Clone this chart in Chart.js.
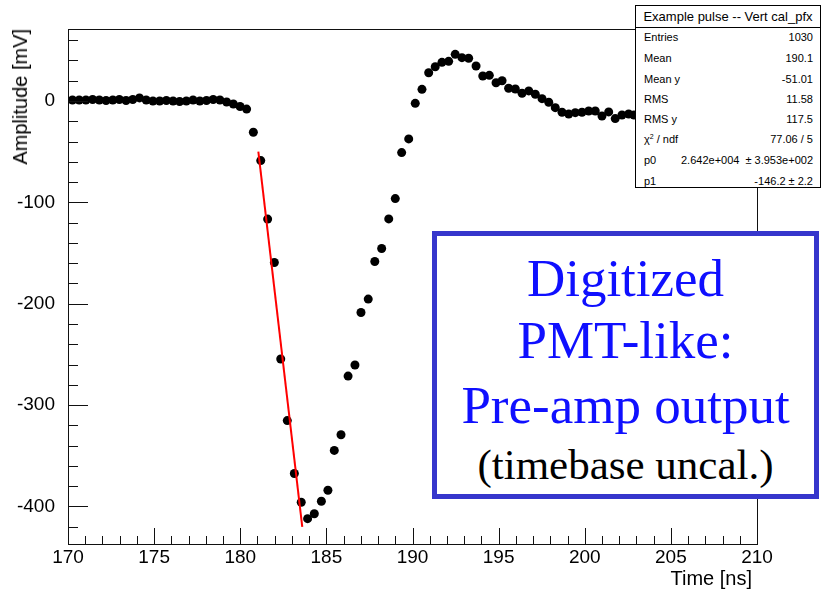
<!DOCTYPE html>
<html>
<head>
<meta charset="utf-8">
<script src="https://cdn.jsdelivr.net/npm/chart.js@4/dist/chart.umd.min.js"></script>
<style>
  html, body { margin: 0; padding: 0; background: #fff; }
  #wrap { position: relative; width: 823px; height: 589px; overflow: hidden; font-family: "Liberation Sans", Arial, sans-serif; }
  #plot { position: absolute; left: 0; top: 0; }
  .ytitle { position: absolute; left: 10px; top: 29px; font-size: 20px; line-height: 20px; writing-mode: vertical-rl; transform: rotate(180deg); white-space: nowrap; }
  .xtitle { position: absolute; right: 71px; top: 568px; font-size: 20px; line-height: 20px; white-space: nowrap; }
  #stats { position: absolute; left: 635px; top: 5px; width: 186px; height: 183px; border: 1px solid #000; background: #fff; box-sizing: border-box; }
  #stats .head { position: absolute; left: 0; right: 0; top: 0; height: 21px; border-bottom: 1px solid #000; text-align: center; font-size: 13px; line-height: 21px; }
  #stats .row { position: absolute; left: 8px; right: 7px; height: 14px; font-size: 11px; line-height: 14px; }
  #stats .row .v { position: absolute; right: 0; top: 0; }
  #stats sup { font-size: 7px; line-height: 0; vertical-align: 4px; }
  #note { position: absolute; left: 432px; top: 231px; width: 387px; height: 268px; border: 5px solid #3636cc; box-sizing: border-box; background: #fff; font-family: "Liberation Serif", "Times New Roman", serif; }
  #note div { position: absolute; left: 0; right: 0; text-align: center; white-space: nowrap; }
  #note .big { color: #0f0fff; font-size: 53px; line-height: 60px; }
  #note .small { color: #000; font-size: 43px; line-height: 50px; }
</style>
</head>
<body>
<div id="wrap">
  <canvas id="plot" width="823" height="589"></canvas>
  <div class="ytitle">Amplitude [mV]</div>
  <div class="xtitle">Time [ns]</div>
  <div id="stats">
    <div class="head">Example pulse -- Vert cal_pfx</div>
    <div class="row" style="top:24px">Entries<span class="v">1030</span></div>
    <div class="row" style="top:45px">Mean<span class="v">190.1</span></div>
    <div class="row" style="top:66px">Mean y<span class="v">-51.01</span></div>
    <div class="row" style="top:86px">RMS<span class="v">11.58</span></div>
    <div class="row" style="top:106px">RMS y<span class="v">117.5</span></div>
    <div class="row" style="top:126px">&chi;<sup>2</sup> / ndf<span class="v">77.06 / 5</span></div>
    <div class="row" style="top:147px">p0<span style="position:absolute;left:37px">2.642e+004</span><span class="v">&plusmn; 3.953e+002</span></div>
    <div class="row" style="top:168px">p1<span class="v">-146.2 &plusmn; 2.2</span></div>
  </div>
  <div id="note">
    <div class="big" style="top:12px">Digitized</div>
    <div class="big" style="top:74px">PMT-like:</div>
    <div class="big" style="top:139px">Pre-amp output</div>
    <div class="small" style="top:204px">(timebase uncal.)</div>
  </div>
</div>
<script>
// Pulse samples: time [ns] and amplitude [mV]
const timeNs = [
  170.26, 170.65, 171.04, 171.43, 171.82, 172.21, 172.60, 172.98, 173.37, 173.76,
  174.15, 174.54, 174.93, 175.32, 175.71, 176.10, 176.48, 176.87, 177.26, 177.65,
  178.04, 178.43, 178.82, 179.21, 179.60, 179.99, 180.37,
  180.76, 181.19, 181.59, 181.98, 182.35, 182.73, 183.14, 183.54, 183.91, 184.30,
  184.71, 185.09, 185.46, 185.85, 186.26, 186.66, 187.01, 187.43, 187.81, 188.21,
  188.62, 189.00, 189.37, 189.78, 190.16, 190.55, 190.94, 191.32, 191.71, 192.10,
  192.48, 192.87, 193.26, 193.69, 194.08, 194.46, 194.85, 195.20, 195.58, 195.97,
  196.36, 196.75, 197.13, 197.52, 197.91, 198.29, 198.68, 199.07, 199.45, 199.84,
  200.23, 200.61, 201.00, 201.39, 201.77, 202.16, 202.55, 202.86
];
const amplitudeMv = [
  1, 1, 1, 1.5, 1, 0.5, 1, 1.5, 0.5, 1.5,
  3, 1, 0, 0, 0.5, 0, -0.5, 0, 1, 0,
  0.5, 1.5, 1, -1, -3, -5.5, -8,
  -30.8, -58.8, -116.5, -159.3, -254.5, -315.3, -367.5, -395.8, -412, -407.2,
  -394.8, -384.0, -344.7, -329.2, -271.4, -260.4, -208.6, -195.4, -158.3, -145.5,
  -116.3, -96.3, -50.9, -37.4, -2.3, 11.5, 27.9, 33.8, 38.1, 39.1,
  46.0, 42.7, 42.1, 34.5, 24.6, 25.3, 18.0, 20.0, 12.5, 11.8,
  7.6, 9.9, 6.6, 2.3, -1.3, -6.6, -11.1, -12.8, -11.5, -11.1,
  -9.9, -9.9, -14.8, -10.8, -17.4, -13.8, -12.8, -13.8
];
// Linear fit over the falling edge (end points of the red line)
const fitTimeNs = [181.05, 183.6];
const fitAmplitudeMv = [-50, -420];

const xTicks = [170, 175, 180, 185, 190, 195, 200, 205, 210];
const yTicks = [-400, -300, -200, -100, 0];

const tickFont = { family: "'Liberation Sans', Arial, sans-serif", size: 19 };

// ROOT-style frame: full box plus ticks pointing inward (major + minor).
const framePlugin = {
  id: "frame",
  afterDatasetsDraw(chart) {
    const { ctx, chartArea: a, scales } = chart;
    const x = scales.x, y = scales.y;
    ctx.save();
    ctx.strokeStyle = "#111";
    ctx.lineWidth = 1;
    ctx.strokeRect(Math.round(a.left) + 0.5, Math.round(a.top) + 0.5,
      Math.round(a.right - a.left), Math.round(a.bottom - a.top));
    ctx.beginPath();
    for (let v = x.min; v <= x.max; v += 1) {
      const px = Math.round(x.getPixelForValue(v)) + 0.5;
      const len = v % 5 === 0 ? 16 : 8;
      ctx.moveTo(px, a.bottom);
      ctx.lineTo(px, a.bottom - len);
    }
    for (let v = -420; v <= y.max; v += 20) {
      const py = Math.round(y.getPixelForValue(v)) + 0.5;
      const len = v % 100 === 0 ? 20 : 10;
      ctx.moveTo(a.left, py);
      ctx.lineTo(a.left + len, py);
    }
    ctx.stroke();
    ctx.restore();
  },
};

new Chart(document.getElementById("plot"), {
  type: "scatter",
  data: {
    datasets: [
      {
        label: "fit",
        type: "line",
        data: fitTimeNs.map((t, i) => ({ x: t, y: fitAmplitudeMv[i] })),
        borderColor: "#ff0000",
        borderWidth: 2,
        pointRadius: 0,
        order: 0,
      },
      {
        label: "pulse",
        data: timeNs.map((t, i) => ({ x: t, y: amplitudeMv[i] })),
        backgroundColor: "#000",
        borderWidth: 0,
        pointRadius: 4.5,
        order: 1,
      },
    ],
  },
  options: {
    responsive: false,
    animation: false,
    devicePixelRatio: 1,
    layout: { padding: { top: 29, right: 66, left: 0, bottom: 0 } },
    plugins: { legend: { display: false }, tooltip: { enabled: false } },
    scales: {
      x: {
        type: "linear",
        min: 170,
        max: 210,
        grid: { display: false, drawTicks: false },
        border: { display: false },
        afterBuildTicks: (s) => { s.ticks = xTicks.map((v) => ({ value: v })); },
        afterFit: (s) => { s.height = 45; },
        ticks: { font: tickFont, color: "#000", padding: 2, maxRotation: 0 },
      },
      y: {
        type: "linear",
        min: -437,
        max: 71,
        grid: { display: false },
        border: { display: false },
        afterBuildTicks: (s) => { s.ticks = yTicks.map((v) => ({ value: v })); },
        afterFit: (s) => { s.width = 68; },
        ticks: { font: tickFont, color: "#000", padding: 5 },
      },
    },
  },
  plugins: [framePlugin],
});
</script>
</body>
</html>
